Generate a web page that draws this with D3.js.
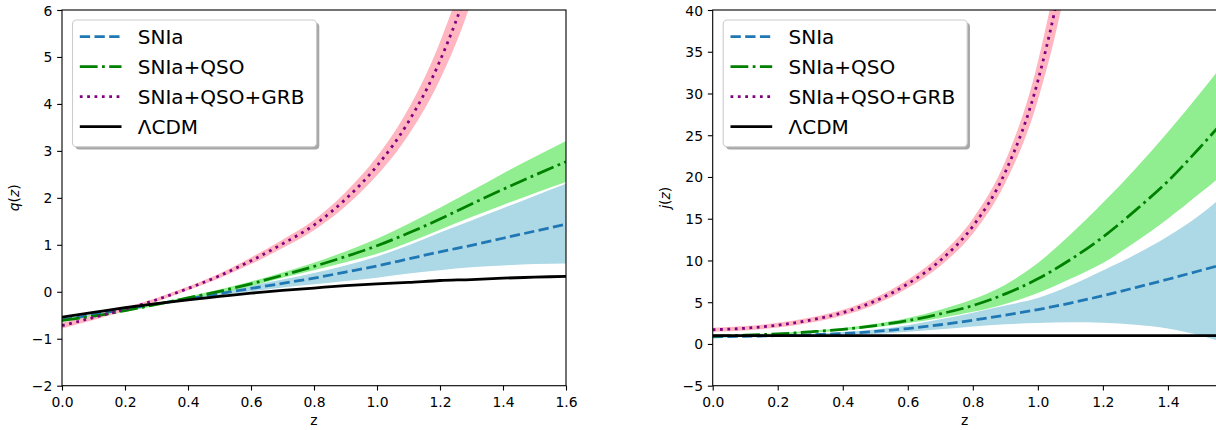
<!DOCTYPE html>
<html><head><meta charset="utf-8">
<script src="https://cdn.jsdelivr.net/npm/d3@7"></script>
<style>
html,body{margin:0;padding:0;background:#fff;}
svg{display:block;font-family:"DejaVu Sans",sans-serif;}
</style></head><body>
<svg id="fig" width="1216" height="430"></svg>
<script>
// ---------- deceleration parameter q(z) ----------
const zGrid = [0,0.1,0.2,0.3,0.4,0.5,0.6,0.7,0.8,0.9,1.0,1.1,1.2,1.3,1.4,1.5,1.6];

const qLCDM    = [-0.54,-0.44,-0.34,-0.25,-0.17,-0.10,-0.03,0.03,0.08,0.13,0.17,0.20,0.24,0.26,0.29,0.31,0.33];

const qSNIa    = [-0.60,-0.49,-0.37,-0.26,-0.15,-0.04,0.07,0.18,0.29,0.42,0.55,0.70,0.85,0.99,1.14,1.29,1.44];
const qSNIaLo  = [-0.63,-0.52,-0.39,-0.28,-0.18,-0.08,0.01,0.09,0.16,0.23,0.30,0.39,0.46,0.52,0.56,0.59,0.60];
const qSNIaHi  = [-0.57,-0.46,-0.35,-0.24,-0.12,0.00,0.13,0.26,0.40,0.56,0.75,0.99,1.26,1.52,1.78,2.04,2.30];

const qQSO     = [-0.61,-0.52,-0.40,-0.27,-0.13,0.01,0.17,0.35,0.54,0.75,0.98,1.25,1.55,1.87,2.18,2.48,2.77];
const qQSOLo   = [-0.64,-0.55,-0.43,-0.30,-0.16,-0.03,0.12,0.30,0.46,0.63,0.81,1.05,1.32,1.59,1.85,2.10,2.34];
const qQSOHi   = [-0.58,-0.49,-0.37,-0.24,-0.10,0.05,0.22,0.41,0.62,0.86,1.13,1.45,1.79,2.15,2.52,2.87,3.21];

const zGRBq    = [0,0.1,0.2,0.3,0.4,0.5,0.6,0.7,0.8,0.9,1.0,1.1,1.2,1.3,1.4,1.5,1.596,1.6];
const qGRB     = [-0.72,-0.55,-0.37,-0.17,0.07,0.34,0.66,1.02,1.42,1.97,2.68,3.62,4.92,6.75,9.40,13.2,19.5,19.7];
const qGRBLo   = [-0.78,-0.60,-0.41,-0.21,0.03,0.29,0.59,0.93,1.31,1.82,2.48,3.34,4.52,6.19,8.60,12.1,25,3.0];
const qGRBHi   = [-0.66,-0.50,-0.33,-0.13,0.11,0.39,0.73,1.11,1.53,2.12,2.88,3.90,5.32,7.31,10.2,14.3,30,30];

// ---------- jerk parameter j(z) ----------
const jLCDM    = [1,1,1,1,1,1,1,1,1,1,1,1,1,1,1,1,1];

const jSNIa    = [0.85,0.92,1.00,1.10,1.25,1.50,1.85,2.30,2.85,3.45,4.12,4.90,5.78,6.75,7.75,8.80,9.85];
const jSNIaLo  = [0.75,0.83,0.90,0.98,1.08,1.20,1.45,1.75,2.10,2.35,2.50,2.60,2.55,2.30,1.85,1.00,-0.20];
const jSNIaHi  = [0.95,1.02,1.10,1.23,1.42,1.72,2.25,2.95,3.75,4.60,5.50,7.00,8.80,10.7,12.9,15.5,18.8];

const jQSO     = [0.95,1.05,1.20,1.45,1.75,2.20,2.80,3.60,4.60,6.00,7.80,10.1,12.8,16.0,19.5,23.6,28.0];
const jQSOLo   = [0.85,0.95,1.10,1.33,1.60,2.00,2.50,3.10,3.85,4.80,6.10,7.80,9.70,12.2,15.0,18.1,21.3];
const jQSOHi   = [1.05,1.15,1.30,1.57,1.90,2.42,3.10,4.10,5.35,7.10,9.70,13.1,16.9,21.0,25.4,30.1,35.0];

const zGRBj    = [0,0.1,0.2,0.3,0.4,0.5,0.6,0.7,0.8,0.9,1.0,1.1,1.2];
const jGRB     = [1.70,1.88,2.25,2.85,3.75,5.15,7.20,10.0,14.1,20.6,31.5,50.0,80.0];
const jGRBLo   = [1.45,1.62,1.97,2.54,3.40,4.73,6.70,9.35,13.2,19.3,29.2,45.8,73.0];
const jGRBHi   = [1.95,2.14,2.53,3.16,4.10,5.57,7.70,10.65,15.0,21.9,33.8,54.2,87.0];

// ---------- ticks and labels ----------
const zTicksQ  = [0,0.2,0.4,0.6,0.8,1.0,1.2,1.4,1.6];
const zTicksJ  = [0,0.2,0.4,0.6,0.8,1.0,1.2,1.4];
const qTicks   = [-2,-1,0,1,2,3,4,5,6];
const jTicks   = [-5,0,5,10,15,20,25,30,35,40];
const legendNames = ["SNIa","SNIa+QSO","SNIa+QSO+GRB","\u039BCDM"];

const styles = {
  snia: {band:"#add8e6", line:"#1f77b4", dash:"10.3,4.4"},
  qso:  {band:"#90ee90", line:"#008000", dash:"17.8,4.4,2.8,4.4"},
  grb:  {band:"#ffb6c1", line:"#800080", dash:"2.78,4.58"},
  lcdm: {line:"#000000", dash:null}
};

const svg = d3.select("#fig");
const plotTop = 10, plotBottom = 385.7;
const fs = 13.9;
const minus = s => String(s).replace("-", "\u2212");

function drawPanel(cfg) {
  const x = d3.scaleLinear().domain(cfg.xDomain).range([cfg.left, cfg.right]);
  const y = d3.scaleLinear().domain(cfg.yDomain).range([plotBottom, plotTop]);
  const g = svg.append("g");

  g.append("clipPath").attr("id", cfg.id + "-clip")
    .append("rect").attr("x", cfg.left).attr("y", plotTop)
    .attr("width", cfg.right - cfg.left).attr("height", plotBottom - plotTop);
  const plot = g.append("g").attr("clip-path", `url(#${cfg.id}-clip)`);

  // confidence bands
  cfg.series.filter(s => s.lo).forEach(s => {
    const area = d3.area()
      .x(i => x(s.z[i])).y0(i => y(s.lo[i])).y1(i => y(s.hi[i]))
      .curve(d3.curveMonotoneX);
    plot.append("path").datum(d3.range(s.z.length))
      .attr("d", area).attr("fill", s.style.band).attr("stroke", "none");
  });
  // best-fit curves
  cfg.series.forEach(s => {
    const line = d3.line().x(i => x(s.z[i])).y(i => y(s.c[i])).curve(d3.curveMonotoneX);
    plot.append("path").datum(d3.range(s.z.length))
      .attr("d", line).attr("fill", "none")
      .attr("stroke", s.style.line).attr("stroke-width", 2.78)
      .attr("stroke-dasharray", s.style.dash);
  });

  // axes
  const ax = g.append("g").attr("transform", `translate(0,${plotBottom})`)
    .call(d3.axisBottom(x).tickValues(cfg.xTicks).tickSize(4.86).tickPadding(4.86)
      .tickFormat(d => minus(d3.format(".1f")(d))));
  const ay = g.append("g").attr("transform", `translate(${cfg.left},0)`)
    .call(d3.axisLeft(y).tickValues(cfg.yTicks).tickSize(4.86).tickPadding(4.86)
      .tickFormat(d => minus(d)));
  [ax, ay].forEach(a => {
    a.select(".domain").remove();
    a.selectAll("line").attr("stroke", "#000").attr("stroke-width", 1.1);
    a.selectAll("text").attr("fill", "#000").style("font-size", fs + "px")
      .style("font-family", "DejaVu Sans");
  });
  ax.selectAll("text").attr("dy", "0.8em");
  ay.selectAll("text").attr("dy", "0.36em");

  // frame
  g.append("rect").attr("x", cfg.left).attr("y", plotTop)
    .attr("width", cfg.right - cfg.left).attr("height", plotBottom - plotTop)
    .attr("fill", "none").attr("stroke", "#000").attr("stroke-width", 1.1);

  // axis labels
  g.append("text").attr("x", (cfg.left + cfg.right) / 2).attr("y", 425)
    .attr("text-anchor", "middle").style("font-size", fs + "px").text("z");
  const yl = g.append("text")
    .attr("transform", `translate(${cfg.left - 43},${(plotTop + plotBottom) / 2}) rotate(-90)`)
    .attr("text-anchor", "middle").style("font-size", fs + "px");
  yl.append("tspan").style("font-style", "italic").text(cfg.yName);
  yl.append("tspan").text("(");
  yl.append("tspan").style("font-style", "italic").text("z");
  yl.append("tspan").text(")");

  // legend
  const bx = cfg.left + 10.5, by = 20, bw = 244, bh = 126.7;
  const lg = g.append("g");
  lg.append("rect").attr("x", bx + 2.8).attr("y", by + 2.8).attr("width", bw).attr("height", bh)
    .attr("rx", 4).attr("fill", "#a8a8a8");
  lg.append("rect").attr("x", bx).attr("y", by).attr("width", bw).attr("height", bh)
    .attr("rx", 4).attr("fill", "#fff").attr("stroke", "#cccccc").attr("stroke-width", 1.1);
  const legendStyles = [styles.snia, styles.qso, styles.grb, styles.lcdm];
  legendNames.forEach((name, k) => {
    const yy = 36.7 + 30 * k;
    lg.append("line").attr("x1", bx + 7.3).attr("x2", bx + 49).attr("y1", yy).attr("y2", yy)
      .attr("stroke", legendStyles[k].line).attr("stroke-width", 2.78)
      .attr("stroke-dasharray", legendStyles[k].dash);
    lg.append("text").attr("x", bx + 65.3).attr("y", yy + 6.8)
      .style("font-size", "20px").text(name);
  });
}

drawPanel({
  id: "q", left: 62, right: 566, xDomain: [0, 1.6], yDomain: [-2, 6],
  xTicks: zTicksQ, yTicks: qTicks, yName: "q",
  series: [
    {z: zGrid, c: qSNIa, lo: qSNIaLo, hi: qSNIaHi, style: styles.snia},
    {z: zGrid, c: qQSO,  lo: qQSOLo,  hi: qQSOHi,  style: styles.qso},
    {z: zGRBq, c: qGRB,  lo: qGRBLo,  hi: qGRBHi,  style: styles.grb},
    {z: zGrid, c: qLCDM, style: styles.lcdm}
  ]
});

drawPanel({
  id: "j", left: 712.7, right: 1216.7, xDomain: [0, 1.55], yDomain: [-5, 40],
  xTicks: zTicksJ, yTicks: jTicks, yName: "j",
  series: [
    {z: zGrid, c: jSNIa, lo: jSNIaLo, hi: jSNIaHi, style: styles.snia},
    {z: zGrid, c: jQSO,  lo: jQSOLo,  hi: jQSOHi,  style: styles.qso},
    {z: zGRBj, c: jGRB,  lo: jGRBLo,  hi: jGRBHi,  style: styles.grb},
    {z: zGrid, c: jLCDM, style: styles.lcdm}
  ]
});
</script>
</body></html>
